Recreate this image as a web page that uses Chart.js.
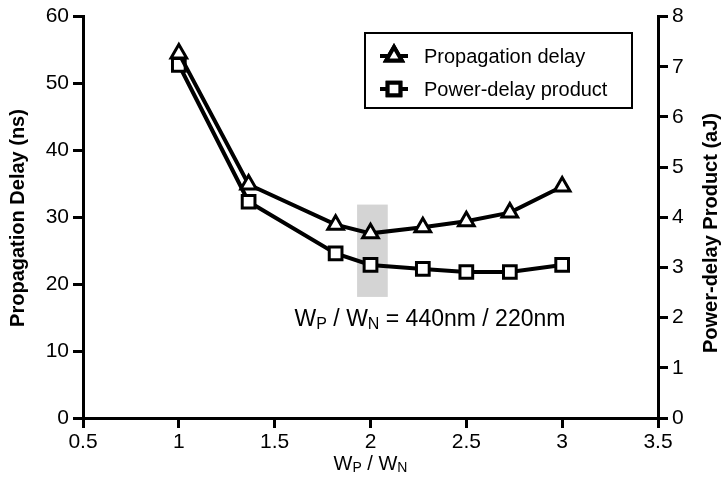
<!DOCTYPE html>
<html>
<head>
<meta charset="utf-8">
<script src="https://cdn.jsdelivr.net/npm/chart.js@4.4.1/dist/chart.umd.min.js"></script>
<style>
  html, body { margin: 0; padding: 0; background: #fff; }
  #wrap { width: 725px; height: 484px; }
</style>
</head>
<body>
<div id="wrap"><canvas id="delayChart" width="725" height="484"></canvas></div>
<script>
// W_P / W_N ratios (W_N = 220nm, W_P = 220..660nm)
const ratios = [1, 1.364, 1.818, 2, 2.273, 2.5, 2.727, 3];
// propagation delay, ns (left axis)
const delayNs = [54.5, 34.9, 28.9, 27.6, 28.5, 29.4, 30.7, 34.6];
// power-delay product, aJ (right axis)
const pdpAj = [7.04, 4.31, 3.28, 3.05, 2.97, 2.91, 2.91, 3.05];

const seriesNames = ['Propagation delay', 'Power-delay product'];
// shaded band around the chosen sizing
const bandX = [1.93, 2.09];
const bandY = [18.1, 31.9];

const FONT = '"Liberation Sans", Arial, sans-serif';
const TICK_FONT = { family: FONT, size: 21 };

function toXY(xs, ys){ return xs.map((x, i) => ({ x: x, y: ys[i] })); }

// text with subscripts: parts = [[text, isSub], ...]
function partsWidth(ctx, parts, size){
	let w = 0;
	parts.forEach(p => {
		ctx.font = (p[1] ? Math.round(size * 0.68) : size) + 'px ' + FONT;
		w += ctx.measureText(p[0]).width;
	});
	return w;
}
function drawParts(ctx, parts, size, cx, cy){
	let x = cx - partsWidth(ctx, parts, size) / 2;
	ctx.textAlign = 'left';
	ctx.textBaseline = 'middle';
	parts.forEach(p => {
		ctx.font = (p[1] ? Math.round(size * 0.68) : size) + 'px ' + FONT;
		ctx.fillText(p[0], x, p[1] ? cy + size * 0.22 : cy);
		x += ctx.measureText(p[0]).width;
	});
}

const bandPlugin = {
	id: 'band',
	beforeDatasetsDraw(chart){
		const { ctx, scales } = chart;
		const x0 = scales.x.getPixelForValue(bandX[0]);
		const x1 = scales.x.getPixelForValue(bandX[1]);
		const y0 = scales.y.getPixelForValue(bandY[1]);
		const y1 = scales.y.getPixelForValue(bandY[0]);
		ctx.save();
		ctx.fillStyle = '#d4d4d4';
		ctx.fillRect(x0, y0, x1 - x0, y1 - y0);
		ctx.restore();
	}
};

const textPlugin = {
	id: 'texts',
	afterDraw(chart){
		const { ctx, chartArea } = chart;
		ctx.save();
		ctx.fillStyle = '#000';

		// axis titles
		drawParts(ctx, [['W', false], ['P', true], [' / W', false], ['N', true]], 20,
			(chartArea.left + chartArea.right) / 2, 464);

		ctx.font = 'bold 20px ' + FONT;
		ctx.textAlign = 'center';
		ctx.textBaseline = 'middle';
		ctx.translate(18, 218);
		ctx.rotate(-Math.PI / 2);
		ctx.fillText('Propagation Delay (ns)', 0, 0);
		ctx.setTransform(1, 0, 0, 1, 0, 0);
		ctx.translate(711, 233);
		ctx.rotate(-Math.PI / 2);
		ctx.fillText('Power-delay Product (aJ)', 0, 0);
		ctx.setTransform(1, 0, 0, 1, 0, 0);

		// annotation under the band
		drawParts(ctx, [['W', false], ['P', true], [' / W', false], ['N', true], [' = 440nm / 220nm', false]], 23,
			430, 320);

		// legend box
		const lx = 365, ly = 33, lw = 267, lh = 75;
		ctx.lineWidth = 2;
		ctx.strokeStyle = '#000';
		ctx.strokeRect(lx, ly, lw, lh);
		const rows = [ly + 23, ly + 56];
		const styles = ['triangle', 'rect'];
		rows.forEach((ry, i) => {
			ctx.lineWidth = 4;
			ctx.beginPath();
			ctx.moveTo(380, ry);
			ctx.lineTo(408, ry);
			ctx.stroke();
			ctx.fillStyle = '#fff';
			Chart.helpers.drawPoint(ctx, { pointStyle: styles[i], radius: 9, borderWidth: 3, rotation: 0 }, 394, ry);
			ctx.fill();
			ctx.stroke();
			ctx.fillStyle = '#000';
			ctx.font = '20px ' + FONT;
			ctx.textAlign = 'left';
			ctx.textBaseline = 'middle';
			ctx.fillText(seriesNames[i], 424, ry + 1);
		});
		ctx.restore();
	}
};

function axisGrid(){
	return { drawOnChartArea: false, drawTicks: true, tickLength: 10, lineWidth: 3, color: '#000' };
}

new Chart(document.getElementById('delayChart'), {
	type: 'line',
	data: {
		datasets: [{
			label: seriesNames[0],
			data: toXY(ratios, delayNs),
			yAxisID: 'y',
			borderColor: '#000',
			borderWidth: 4,
			pointStyle: 'triangle',
			pointRadius: 9,
			pointBorderWidth: 3,
			pointBackgroundColor: '#fff',
			pointBorderColor: '#000',
			tension: 0,
			fill: false
		}, {
			label: seriesNames[1],
			data: toXY(ratios, pdpAj),
			yAxisID: 'y2',
			borderColor: '#000',
			borderWidth: 4,
			pointStyle: 'rect',
			pointRadius: 9,
			pointBorderWidth: 3,
			pointBackgroundColor: '#fff',
			pointBorderColor: '#000',
			tension: 0,
			fill: false
		}]
	},
	options: {
		responsive: false,
		animation: false,
		layout: { padding: { top: 11, right: 0, left: 0, bottom: 0 } },
		plugins: { legend: { display: false }, tooltip: { enabled: false } },
		scales: {
			x: {
				type: 'linear',
				min: 0.5, max: 3.5,
				border: { color: '#000', width: 3 },
				grid: axisGrid(),
				ticks: { stepSize: 0.5, color: '#000', font: TICK_FONT, padding: 2, maxRotation: 0,
					callback: v => String(v) },
				afterFit(s){ s.height = 66; }
			},
			y: {
				position: 'left',
				min: 0, max: 60,
				border: { color: '#000', width: 3 },
				grid: axisGrid(),
				ticks: { stepSize: 10, color: '#000', font: TICK_FONT, padding: 4 },
				afterFit(s){ s.width = 83; }
			},
			y2: {
				position: 'right',
				min: 0, max: 8,
				border: { color: '#000', width: 3 },
				grid: axisGrid(),
				ticks: { stepSize: 1, color: '#000', font: TICK_FONT, padding: 4 },
				afterFit(s){ s.width = 67; }
			}
		}
	},
	plugins: [bandPlugin, textPlugin]
});
</script>
</body>
</html>
